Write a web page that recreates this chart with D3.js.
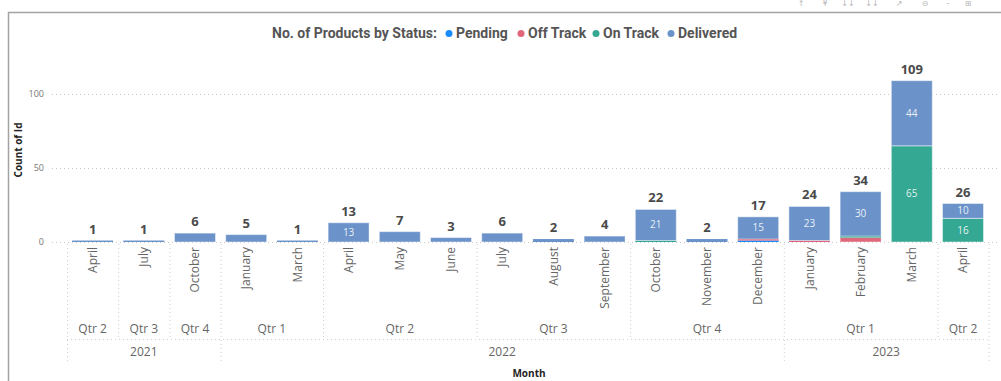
<!DOCTYPE html>
<html>
<head>
<meta charset="utf-8">
<script src="https://cdn.jsdelivr.net/npm/d3@7/dist/d3.min.js"></script>
<style>
  html, body { margin: 0; padding: 0; background: #fff; }
  svg { display: block; }
</style>
</head>
<body>
<svg id="chart" width="1001" height="381"></svg>
<script>
// Monthly product counts, split by status
const months = ["April", "July", "October", "January", "March", "April", "May", "June",
  "July", "August", "September", "October", "November", "December",
  "January", "February", "March", "April"];
const quarters = ["Qtr 2", "Qtr 3", "Qtr 4", "Qtr 1", "Qtr 1", "Qtr 2", "Qtr 2", "Qtr 2",
  "Qtr 3", "Qtr 3", "Qtr 3", "Qtr 4", "Qtr 4", "Qtr 4",
  "Qtr 1", "Qtr 1", "Qtr 1", "Qtr 2"];
const years = ["2021", "2021", "2021", "2022", "2022", "2022", "2022", "2022",
  "2022", "2022", "2022", "2022", "2022", "2022",
  "2023", "2023", "2023", "2023"];

const pending   = [0, 0, 0, 0, 0, 0, 0, 0, 0, 0, 0, 0, 0, 1, 0, 0, 0, 0];
const offTrack  = [0, 0, 0, 0, 0, 0, 0, 0, 0, 0, 0, 0, 0, 1, 1, 3, 0, 0];
const onTrack   = [0, 0, 0, 0, 0, 0, 0, 0, 0, 0, 0, 1, 0, 0, 0, 1, 65, 16];
const delivered = [1, 1, 6, 5, 1, 13, 7, 3, 6, 2, 4, 21, 2, 15, 23, 30, 44, 10];

const statuses = ["Pending", "Off Track", "On Track", "Delivered"];
const yTicks = [0, 50, 100];

const colors = {
  "Pending": "#1a8cff",
  "Off Track": "#e0667a",
  "On Track": "#35a893",
  "Delivered": "#6b93c9"
};

const seriesValues = {
  "Pending": pending,
  "Off Track": offTrack,
  "On Track": onTrack,
  "Delivered": delivered
};

const rows = months.map((m, i) => {
  const r = { i: i, month: m, quarter: quarters[i], year: years[i] };
  statuses.forEach(s => { r[s] = seriesValues[s][i]; });
  r.total = statuses.reduce((a, s) => a + r[s], 0);
  return r;
});

const svg = d3.select("#chart");
const font = "'Open Sans', 'Segoe UI', sans-serif";
const titleFont = "Roboto, 'DejaVu Sans', sans-serif";

// Frame of the visual
svg.append("path")
  .attr("d", "M8.5,381 V12.5 H1001")
  .attr("fill", "none")
  .attr("stroke", "#a3a3a3")
  .attr("stroke-width", 1.5);

// Visual header icons (top right)
const icons = [["↑", 801], ["¥", 825], ["↓↓", 848], ["↓↓", 872], ["↗", 899], ["⊖", 925], ["-", 948], ["⊞", 968]];
svg.append("g").selectAll("text").data(icons).join("text")
  .attr("x", d => d[1]).attr("y", 6)
  .attr("text-anchor", "middle")
  .attr("font-family", "'DejaVu Sans', sans-serif")
  .attr("font-size", 8)
  .attr("fill", "#b5b5b5")
  .text(d => d[0]);

// Scales
const x = d3.scaleBand()
  .domain(rows.map(r => r.i))
  .range([67, 988.6])
  .paddingInner(0.2)
  .paddingOuter(0.1);

const y = d3.scaleLinear().domain([0, 100]).range([242, 94]);

// Gridlines + y axis
const yAxis = d3.axisLeft(y).tickValues(yTicks).tickSize(0).tickPadding(0);
const yg = svg.append("g").attr("transform", "translate(44,0)").call(yAxis);
yg.select(".domain").remove();
yg.selectAll("text")
  .attr("font-family", font)
  .attr("font-size", 9)
  .attr("fill", "#777");

svg.append("g").selectAll("line").data(yTicks).join("line")
  .attr("x1", 52).attr("x2", 1000)
  .attr("y1", d => y(d) + 0.5).attr("y2", d => y(d) + 0.5)
  .attr("stroke", "#c8c8c8")
  .attr("stroke-width", 1)
  .attr("stroke-dasharray", "1,3");

svg.append("text")
  .attr("transform", "translate(22,150) rotate(-90)")
  .attr("text-anchor", "middle")
  .attr("font-family", font)
  .attr("font-size", 10)
  .attr("font-weight", 700)
  .attr("fill", "#252423")
  .text("Count of Id");

// Stacked bars
const stack = d3.stack().keys(statuses);
const stacked = stack(rows);

const layers = svg.append("g").selectAll("g").data(stacked).join("g")
  .attr("fill", d => colors[d.key]);

layers.selectAll("rect").data(d => d.map(p => Object.assign(p, { key: d.key }))).join("rect")
  .attr("x", p => x(p.data.i))
  .attr("width", x.bandwidth())
  .attr("y", p => y(p[1]))
  .attr("height", p => y(p[0]) - y(p[1]))
  .attr("stroke", "rgba(255,255,255,0.45)")
  .attr("stroke-width", p => (p[1] - p[0]) >= 3 ? 1 : 0);

// Segment labels inside larger segments
const segs = stacked.flatMap(layer => layer.map(p => ({ key: layer.key, p: p, v: p[1] - p[0] })))
  .filter(s => s.v >= 10);

svg.append("g").selectAll("text").data(segs).join("text")
  .attr("x", s => x(s.p.data.i) + x.bandwidth() / 2)
  .attr("y", s => y((s.p[0] + s.p[1]) / 2))
  .attr("dy", "0.35em")
  .attr("text-anchor", "middle")
  .attr("font-family", font)
  .attr("font-size", 10)
  .attr("fill", "rgba(255,255,255,0.88)")
  .text(s => s.v);

// Total labels
svg.append("g").selectAll("text").data(rows).join("text")
  .attr("x", r => x(r.i) + x.bandwidth() / 2)
  .attr("y", r => y(r.total) - 7)
  .attr("text-anchor", "middle")
  .attr("font-family", font)
  .attr("font-size", 13)
  .attr("font-weight", 700)
  .attr("fill", "#4a4a4a")
  .text(r => r.total);

// Hierarchical x axis: month / quarter / year
const step = x.step();
const x0 = x.range()[0];
const edge = k => x0 + step * k;

// Month labels (rotated)
svg.append("g").selectAll("text").data(rows).join("text")
  .attr("transform", r => `translate(${x(r.i) + x.bandwidth() / 2},247) rotate(-90)`)
  .attr("text-anchor", "end")
  .attr("dy", "0.35em")
  .attr("font-family", font)
  .attr("font-size", 12)
  .attr("fill", "#666")
  .text(r => r.month);

// Group consecutive runs
function runs(keyFn) {
  const out = [];
  rows.forEach((r, i) => {
    const k = keyFn(r);
    if (out.length && out[out.length - 1].key === k) out[out.length - 1].end = i + 1;
    else out.push({ key: k, start: i, end: i + 1, label: null });
  });
  return out;
}
const qRuns = runs(r => r.year + "|" + r.quarter).map(d => Object.assign(d, { label: d.key.split("|")[1] }));
const yRuns = runs(r => r.year).map(d => Object.assign(d, { label: d.key }));

const sepColor = "#cfcfcf";
const grid = svg.append("g")
  .attr("stroke", sepColor)
  .attr("stroke-width", 1)
  .attr("stroke-dasharray", "1,3")
  .attr("fill", "none");

// Quarter separators
const yearEdges = new Set(yRuns.flatMap(d => [d.start, d.end]));
const qEdges = Array.from(new Set(qRuns.flatMap(d => [d.start, d.end])));
qEdges.forEach(k => {
  grid.append("line")
    .attr("x1", edge(k) + 0.5).attr("x2", edge(k) + 0.5)
    .attr("y1", 244).attr("y2", yearEdges.has(k) ? 363 : 339);
});
grid.append("line")
  .attr("x1", edge(0)).attr("x2", edge(rows.length))
  .attr("y1", 339.5).attr("y2", 339.5);

svg.append("g").selectAll("text").data(qRuns).join("text")
  .attr("x", d => (edge(d.start) + edge(d.end)) / 2)
  .attr("y", 333)
  .attr("text-anchor", "middle")
  .attr("font-family", font)
  .attr("font-size", 12)
  .attr("fill", "#666")
  .text(d => d.label);

svg.append("g").selectAll("text").data(yRuns).join("text")
  .attr("x", d => (edge(d.start) + edge(d.end)) / 2)
  .attr("y", 356)
  .attr("text-anchor", "middle")
  .attr("font-family", font)
  .attr("font-size", 12)
  .attr("fill", "#666")
  .text(d => d.label);

svg.append("text")
  .attr("x", 529).attr("y", 377)
  .attr("text-anchor", "middle")
  .attr("font-family", font)
  .attr("font-size", 10)
  .attr("font-weight", 700)
  .attr("fill", "#252423")
  .text("Month");

// Title and legend
const legend = svg.append("g");
const title = legend.append("text")
  .attr("x", 272).attr("y", 38)
  .attr("font-family", titleFont)
  .attr("font-size", 14)
  .attr("font-weight", 700)
  .attr("fill", "#555")
  .text("No. of Products by Status:");

const legendPos = [449, 521, 596, 671];
statuses.forEach((s, i) => {
  legend.append("circle")
    .attr("cx", legendPos[i]).attr("cy", 33.5).attr("r", 3.5)
    .attr("fill", colors[s]);
  legend.append("text")
    .attr("x", legendPos[i] + 7).attr("y", 38)
    .attr("font-family", titleFont)
    .attr("font-size", 14)
    .attr("font-weight", 700)
    .attr("fill", "#555")
    .text(s);
});
</script>
</body>
</html>
